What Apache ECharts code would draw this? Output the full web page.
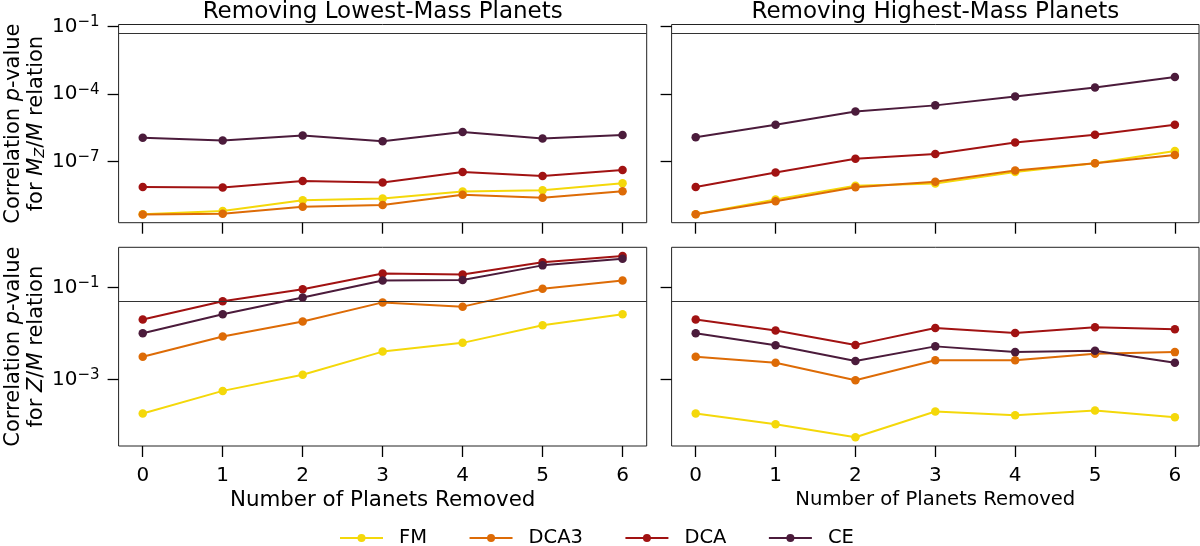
<!DOCTYPE html>
<html>
<head>
<meta charset="utf-8">
<title>Correlation p-value vs planets removed</title>
<script src="https://cdn.jsdelivr.net/npm/echarts@6/dist/echarts.min.js"></script>
<style>
html, body { margin: 0; padding: 0; background: #fff; }
#chart { width: 1200px; height: 546px; }
</style>
</head>
<body>
<div id="chart"></div>
<script>
var removed = [0, 1, 2, 3, 4, 5, 6];
var models = ['FM', 'DCA3', 'DCA', 'CE'];
var colors = ['#f4d80a', '#dd6b06', '#a11212', '#4b1b3b'];
var pThreshold = 0.05;

// tick exponents (10^n)
var mzTicks = [-7, -4, -1];
var zmTicks = [-3, -1];

// M_Z/M relation, removing lowest-mass planets
var mzLowFM   = [4.6e-10, 6.5e-10, 1.95e-9, 2.3e-9, 4.8e-9, 5.4e-9, 1.1e-8];
var mzLowDCA3 = [4.5e-10, 4.9e-10, 1.0e-9, 1.2e-9, 3.4e-9, 2.5e-9, 4.9e-9];
var mzLowDCA  = [7.6e-9, 7.1e-9, 1.4e-8, 1.2e-8, 3.5e-8, 2.3e-8, 4.3e-8];
var mzLowCE   = [1.17e-6, 8.7e-7, 1.45e-6, 8.1e-7, 2.1e-6, 1.07e-6, 1.55e-6];

// M_Z/M relation, removing highest-mass planets
var mzHighFM   = [4.6e-10, 2.1e-9, 8.5e-9, 1.07e-8, 3.5e-8, 8.5e-8, 3.0e-7];
var mzHighDCA3 = [4.6e-10, 1.74e-9, 7.4e-9, 1.3e-8, 4.1e-8, 8.5e-8, 2.0e-7];
var mzHighDCA  = [7.6e-9, 3.3e-8, 1.35e-7, 2.2e-7, 7.1e-7, 1.6e-6, 4.4e-6];
var mzHighCE   = [1.23e-6, 4.4e-6, 1.7e-5, 3.2e-5, 7.9e-5, 2.0e-4, 5.9e-4];

// Z/M relation, removing lowest-mass planets
var zmLowFM   = [1.8e-4, 5.6e-4, 1.26e-3, 4.0e-3, 6.2e-3, 0.015, 0.026];
var zmLowDCA3 = [0.0031, 0.0085, 0.018, 0.047, 0.038, 0.093, 0.14];
var zmLowDCA  = [0.020, 0.050, 0.091, 0.20, 0.19, 0.35, 0.48];
var zmLowCE   = [0.010, 0.026, 0.060, 0.14, 0.145, 0.30, 0.42];

// Z/M relation, removing highest-mass planets
var zmHighFM   = [1.8e-4, 1.05e-4, 5.5e-5, 2.0e-4, 1.66e-4, 2.1e-4, 1.5e-4];
var zmHighDCA3 = [0.0031, 0.0023, 9.5e-4, 0.0026, 0.0026, 0.0036, 0.0039];
var zmHighDCA  = [0.020, 0.0115, 0.0056, 0.013, 0.0102, 0.0135, 0.0123];
var zmHighCE   = [0.010, 0.0055, 0.0025, 0.0052, 0.0039, 0.0042, 0.0023];

var font = 'DejaVu Sans';

var panels = [
	[mzLowFM, mzLowDCA3, mzLowDCA, mzLowCE],
	[mzHighFM, mzHighDCA3, mzHighDCA, mzHighCE],
	[zmLowFM, zmLowDCA3, zmLowDCA, zmLowCE],
	[zmHighFM, zmHighDCA3, zmHighDCA, zmHighCE]
];

function toLogPoints(arr) {
	return arr.map(function(p, i) {
		return [removed[i], Math.log10(p)];
	});
}

var labelRich = {
	b: { fontSize: 20, fontFamily: font, color: '#000' },
	s: { fontSize: 15, fontFamily: font, color: '#000', padding: [0, 0, 9, 0] }
};

var nameRich = {
	n: { fontSize: 21, fontFamily: font, color: '#000', lineHeight: 23 },
	i: { fontSize: 21, fontFamily: font, color: '#000', lineHeight: 23, fontStyle: 'italic' },
	s: { fontSize: 14.5, fontFamily: font, color: '#000', lineHeight: 23, fontStyle: 'italic', verticalAlign: 'bottom', padding: [0, 0, 0, 0] }
};

function xAxisFor(gi, showLabel, nameSize) {
	return {
		type: 'value', gridIndex: gi, min: -0.302, max: 6.302,
		axisLine: { show: false, onZero: false },
		splitLine: { show: false },
		axisTick: { show: true, customValues: removed, length: 11, lineStyle: { color: '#000', width: 1.3 } },
		axisLabel: { show: showLabel, customValues: removed, margin: 20, fontSize: 20, fontFamily: font, color: '#000' },
		name: showLabel ? 'Number of Planets Removed' : '',
		nameLocation: 'middle',
		nameGap: 44,
		nameTextStyle: { fontSize: nameSize, fontFamily: font, color: '#000' }
	};
}

function yAxisFor(gi, min, max, ticks, showLabel, name) {
	return {
		type: 'value', gridIndex: gi, min: min, max: max,
		axisLine: { show: false, onZero: false },
		splitLine: { show: false },
		axisTick: { show: true, customValues: ticks, length: 11, lineStyle: { color: '#000', width: 1.3 } },
		axisLabel: {
			show: showLabel, customValues: ticks, margin: 19, rich: labelRich,
			formatter: function(v) {
				return '{b|10}{s|\u2212' + Math.round(-v) + '}';
			}
		},
		name: name || '',
		nameLocation: 'middle',
		nameRotate: 90,
		nameGap: 64,
		nameTextStyle: { rich: nameRich, fontSize: 21, fontFamily: font, lineHeight: 23 }
	};
}

var mzName = '{n|Correlation }{i|p}{n|-value}\n{n|for }{i|M}{s|Z}{n|/}{i|M}{n| relation}';
var zmName = '{n|Correlation }{i|p}{n|-value}\n{n|for }{i|Z}{n|/}{i|M}{n| relation}';

var series = [];
panels.forEach(function(sets, gi) {
	sets.forEach(function(arr, mi) {
		var s = {
			name: models[mi],
			type: 'line',
			xAxisIndex: gi,
			yAxisIndex: gi,
			data: toLogPoints(arr),
			symbol: 'circle',
			symbolSize: 8.5,
			color: colors[mi],
			lineStyle: { width: 2, color: colors[mi] },
			itemStyle: { color: colors[mi] },
			emphasis: { disabled: true },
			z: 2 + mi
		};
		if (mi === 0) {
			// p = 0.05 reference line
			s.markLine = {
				silent: true,
				symbol: ['none', 'none'],
				label: { show: false },
				lineStyle: { color: '#333', width: 1.2, type: 'solid' },
				data: [{ yAxis: Math.log10(pThreshold) }]
			};
		}
		series.push(s);
	});
});

var titleStyle = { fontSize: 23, fontWeight: 'normal', fontFamily: font, color: '#000' };

var option = {
	animation: false,
	backgroundColor: '#fff',
	title: [
		{ text: 'Removing Lowest-Mass Planets', left: 382.7, textAlign: 'center', top: 1, padding: 0, textStyle: titleStyle },
		{ text: 'Removing Highest-Mass Planets', left: 935.3, textAlign: 'center', top: 1, padding: 0, textStyle: titleStyle }
	],
	legend: {
		data: models,
		left: 339,
		top: 528,
		padding: 0,
		itemWidth: 43,
		itemHeight: 10,
		itemGap: 41.5,
		selectedMode: false,
		lineStyle: { width: 2 },
		textStyle: { fontSize: 19.5, fontFamily: font, color: '#000', padding: [0, 0, 0, 11] }
	},
	grid: [
		{ left: 118.6, top: 24.5, width: 528.1, height: 198.2, show: true, borderColor: '#222', borderWidth: 1, backgroundColor: 'transparent' },
		{ left: 671.6, top: 24.5, width: 527.4, height: 198.2, show: true, borderColor: '#222', borderWidth: 1, backgroundColor: 'transparent' },
		{ left: 118.6, top: 247.3, width: 528.1, height: 198.7, show: true, borderColor: '#222', borderWidth: 1, backgroundColor: 'transparent' },
		{ left: 671.6, top: 247.3, width: 527.4, height: 198.7, show: true, borderColor: '#222', borderWidth: 1, backgroundColor: 'transparent' }
	],
	xAxis: [
		xAxisFor(0, false, 21.4),
		xAxisFor(1, false, 21.4),
		xAxisFor(2, true, 21.4),
		xAxisFor(3, true, 19.6)
	],
	yAxis: [
		yAxisFor(0, -9.71, -0.90, mzTicks, true, mzName),
		yAxisFor(1, -9.71, -0.90, mzTicks, false),
		yAxisFor(2, -4.45, -0.13, zmTicks, true, zmName),
		yAxisFor(3, -4.45, -0.13, zmTicks, false)
	],
	series: series
};

var chart = echarts.init(document.getElementById('chart'));
chart.setOption(option);
</script>
</body>
</html>
